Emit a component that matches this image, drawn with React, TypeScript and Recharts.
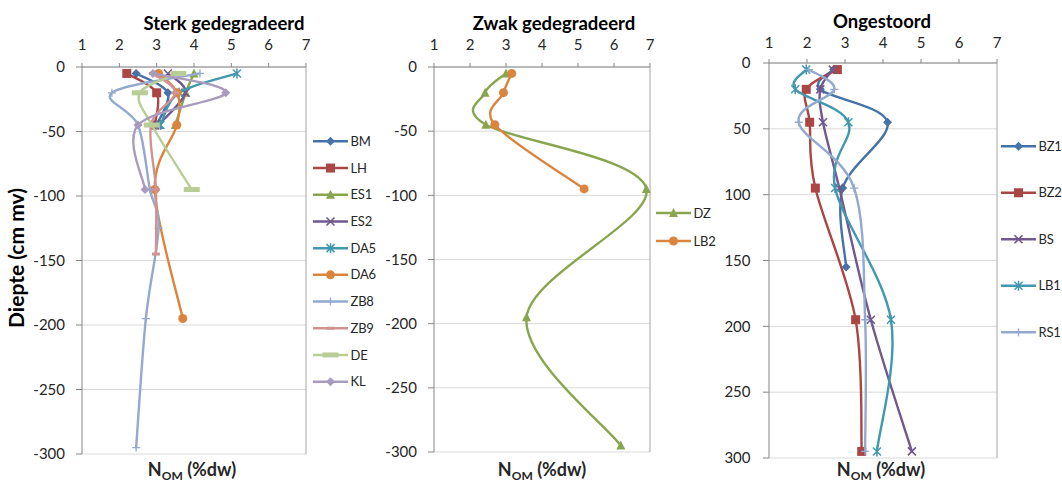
import { ScatterChart, Scatter, XAxis, YAxis, CartesianGrid, ReferenceLine, Legend } from 'recharts';

const FONT = 'Lato, "Open Sans", sans-serif';
const INK = '#262626';

const nomTicks = [1, 2, 3, 4, 5, 6, 7];
const negDepthTicks = [0, -50, -100, -150, -200, -250, -300];
const posDepthTicks = [0, 50, 100, 150, 200, 250, 300];

// Sterk gedegradeerd
const bmDepth = [-5, -20, -45];
const bmVal = [2.45, 3.3, 3.0];
const lhDepth = [-5, -20, -45];
const lhVal = [2.2, 3.0, 2.95];
const es1Depth = [-5, -20, -45];
const es1Val = [4.0, 3.78, 3.5];
const es2Depth = [-5, -20, -45];
const es2Val = [3.3, 3.77, 3.05];
const da5Depth = [-5, -20, -45];
const da5Val = [5.15, 3.6, 3.1];
const da6Depth = [-5, -20, -45, -95, -195];
const da6Val = [3.05, 3.55, 3.54, 2.95, 3.7];
const zb8Depth = [-5, -20, -45, -95, -125, -195, -295];
const zb8Val = [4.16, 1.8, 2.5, 2.82, 3.05, 2.71, 2.45];
const zb9Depth = [-5, -20, -45, -95, -145];
const zb9Val = [2.9, 3.5, 2.85, 2.98, 2.98];
const deDepth = [-5, -20, -45, -95];
const deVal = [3.58, 2.55, 2.87, 3.94];
const klDepth = [-5, -20, -45, -95];
const klVal = [2.9, 4.85, 2.5, 2.69];

// Zwak gedegradeerd
const dzDepth = [-5, -20, -45, -95, -195, -295];
const dzVal = [3.0, 2.42, 2.44, 6.9, 3.57, 6.19];
const lb2Depth = [-5, -20, -45, -95];
const lb2Val = [3.16, 2.93, 2.69, 5.17];

// Ongestoord
const bz1Depth = [5, 20, 45, 95, 155];
const bz1Val = [2.7, 2.35, 4.12, 2.94, 3.03];
const bz2Depth = [5, 20, 45, 95, 195, 295];
const bz2Val = [2.8, 1.98, 2.07, 2.22, 3.28, 3.44];
const bsDepth = [5, 20, 45, 95, 195, 295];
const bsVal = [2.68, 2.35, 2.42, 2.85, 3.68, 4.76];
const lb1Depth = [5, 20, 45, 95, 195, 295];
const lb1Val = [1.98, 1.69, 3.09, 2.74, 4.21, 3.84];
const rs1Depth = [5, 20, 45, 95, 195, 295];
const rs1Val = [2.05, 2.72, 1.78, 3.24, 3.53, 3.53];

const toPts = (d: number[], v: number[]) => d.map((dd, i) => ({ d: dd, v: v[i] }));

type Kind = 'diamond' | 'square' | 'triangle' | 'x' | 'asterisk' | 'circle' | 'plus' | 'dash' | 'bigdash';
type Series = { name: string; color: string; kind: Kind; data: { d: number; v: number }[] };

const sterk: Series[] = [
  { name: 'BM', color: '#4572A7', kind: 'diamond', data: toPts(bmDepth, bmVal) },
  { name: 'LH', color: '#AA4643', kind: 'square', data: toPts(lhDepth, lhVal) },
  { name: 'ES1', color: '#89A54E', kind: 'triangle', data: toPts(es1Depth, es1Val) },
  { name: 'ES2', color: '#71588F', kind: 'x', data: toPts(es2Depth, es2Val) },
  { name: 'DA5', color: '#4198AF', kind: 'asterisk', data: toPts(da5Depth, da5Val) },
  { name: 'DA6', color: '#DB843D', kind: 'circle', data: toPts(da6Depth, da6Val) },
  { name: 'ZB8', color: '#93A9CF', kind: 'plus', data: toPts(zb8Depth, zb8Val) },
  { name: 'ZB9', color: '#D19392', kind: 'dash', data: toPts(zb9Depth, zb9Val) },
  { name: 'DE', color: '#B9CD96', kind: 'bigdash', data: toPts(deDepth, deVal) },
  { name: 'KL', color: '#A99BBD', kind: 'diamond', data: toPts(klDepth, klVal) },
];

const zwak: Series[] = [
  { name: 'DZ', color: '#89A54E', kind: 'triangle', data: toPts(dzDepth, dzVal) },
  { name: 'LB2', color: '#DB843D', kind: 'circle', data: toPts(lb2Depth, lb2Val) },
];

const ongestoord: Series[] = [
  { name: 'BZ1', color: '#4572A7', kind: 'diamond', data: toPts(bz1Depth, bz1Val) },
  { name: 'BZ2', color: '#AA4643', kind: 'square', data: toPts(bz2Depth, bz2Val) },
  { name: 'BS', color: '#71588F', kind: 'x', data: toPts(bsDepth, bsVal) },
  { name: 'LB1', color: '#4198AF', kind: 'asterisk', data: toPts(lb1Depth, lb1Val) },
  { name: 'RS1', color: '#93A9CF', kind: 'plus', data: toPts(rs1Depth, rs1Val) },
];

// smoothing like Excel's "smoothed line" (cardinal spline, tension 0)
function excelSmooth(context: any) {
  let pts: number[][] = [];
  return {
    areaStart() {},
    areaEnd() {},
    lineStart() {
      pts = [];
    },
    point(x: number, y: number) {
      pts.push([+x, +y]);
    },
    lineEnd() {
      const n = pts.length;
      if (!n) return;
      context.moveTo(pts[0][0], pts[0][1]);
      for (let i = 0; i < n - 1; i++) {
        const p0 = pts[Math.max(0, i - 1)];
        const p1 = pts[i];
        const p2 = pts[i + 1];
        const p3 = pts[Math.min(n - 1, i + 2)];
        context.bezierCurveTo(
          p1[0] + (p2[0] - p0[0]) / 6,
          p1[1] + (p2[1] - p0[1]) / 6,
          p2[0] - (p3[0] - p1[0]) / 6,
          p2[1] - (p3[1] - p1[1]) / 6,
          p2[0],
          p2[1],
        );
      }
    },
  };
}

function Marker({ kind, cx, cy, color }: { kind: Kind; cx: number; cy: number; color: string }) {
  if (cx == null || cy == null) return null;
  switch (kind) {
    case 'diamond':
      return <path d={`M${cx},${cy - 4.5}L${cx + 4.5},${cy}L${cx},${cy + 4.5}L${cx - 4.5},${cy}Z`} fill={color} />;
    case 'square':
      return <rect x={cx - 4.5} y={cy - 4.5} width={9} height={9} fill={color} />;
    case 'triangle':
      return <path d={`M${cx},${cy - 5}L${cx + 4.5},${cy + 4}L${cx - 4.5},${cy + 4}Z`} fill={color} />;
    case 'circle':
      return <circle cx={cx} cy={cy} r={4.5} fill={color} />;
    case 'x':
      return (
        <path d={`M${cx - 4},${cy - 4}L${cx + 4},${cy + 4}M${cx - 4},${cy + 4}L${cx + 4},${cy - 4}`} stroke={color} strokeWidth={1.6} />
      );
    case 'asterisk':
      return (
        <path
          d={`M${cx - 4},${cy - 4}L${cx + 4},${cy + 4}M${cx - 4},${cy + 4}L${cx + 4},${cy - 4}M${cx},${cy - 5}L${cx},${cy + 5}`}
          stroke={color}
          strokeWidth={1.5}
        />
      );
    case 'plus':
      return <path d={`M${cx - 4},${cy}L${cx + 4},${cy}M${cx},${cy - 4}L${cx},${cy + 4}`} stroke={color} strokeWidth={1.3} />;
    case 'dash':
      return <rect x={cx - 4} y={cy - 1.5} width={8} height={3} fill={color} />;
    case 'bigdash':
      return <rect x={cx - 8} y={cy - 2.5} width={16} height={5} fill={color} />;
  }
  return null;
}

function LegendBox({ items, gap }: { items: Series[]; gap: number }) {
  return (
    <svg width={62} height={gap * items.length} style={{ display: 'block', overflow: 'visible' }}>
      {items.map((s, i) => {
        const y = gap * i + gap / 2;
        return (
          <g key={s.name}>
            <line x1={0} x2={35} y1={y} y2={y} stroke={s.color} strokeWidth={2.5} />
            <Marker kind={s.kind} cx={17.5} cy={y} color={s.color} />
            <text x={37.5} y={y} dy="0.35em" fontSize={13} letterSpacing={-0.2} fontFamily={FONT} fill={INK}>
              {s.name}
            </text>
          </g>
        );
      })}
    </svg>
  );
}

type PanelProps = {
  left: number;
  width: number;
  margin: { top: number; right: number; bottom: number; left: number };
  yWidth: number;
  yGap: number;
  xGap: number;
  yTicks: number[];
  reversed?: boolean;
  series: Series[];
  legendLeft: number;
  legendTop: number;
  legendGap: number;
};

function Panel(p: PanelProps) {
  const lo = Math.min(...p.yTicks);
  const hi = Math.max(...p.yTicks);
  return (
    <div style={{ position: 'absolute', left: p.left, top: 0 }}>
      <ScatterChart width={p.width} height={482} margin={p.margin}>
        <CartesianGrid vertical={false} stroke="#D9D9D9" />
        <XAxis
          type="number"
          dataKey="v"
          orientation="top"
          domain={[1, 7]}
          ticks={nomTicks}
          height={30}
          axisLine={{ stroke: '#868686' }}
          tickLine={{ stroke: '#868686' }}
          tickSize={4}
          tickMargin={p.xGap - 4}
          tick={{ fontSize: 15, fill: INK, fontFamily: FONT }}
        />
        <YAxis
          type="number"
          dataKey="d"
          domain={[lo, hi]}
          ticks={p.yTicks}
          reversed={p.reversed}
          width={p.yWidth}
          axisLine={{ stroke: '#868686' }}
          tickLine={{ stroke: '#868686' }}
          tickSize={6}
          tickMargin={p.yGap - 6}
          tick={{ fontSize: 15, fill: INK, fontFamily: FONT }}
        />
        <ReferenceLine x={7} stroke="#A6A6A6" />
        {p.series.map((s) => (
          <Scatter
            key={s.name}
            name={s.name}
            data={s.data}
            fill={s.color}
            line={{ stroke: s.color, strokeWidth: 2.4 }}
            lineJointType={excelSmooth as any}
            shape={(props: any) => <Marker kind={s.kind} cx={props.cx} cy={props.cy} color={s.color} />}
            isAnimationActive={false}
          />
        ))}
        <Legend
          layout="vertical"
          align="center"
          verticalAlign="middle"
          wrapperStyle={{ left: p.legendLeft, top: p.legendTop, width: 62 }}
          content={() => <LegendBox items={p.series} gap={p.legendGap} />}
        />
      </ScatterChart>
    </div>
  );
}

function NomTitle({ x }: { x: number }) {
  return (
    <text x={x} y={476} textAnchor="middle" fontSize={18} fontWeight={700} fontFamily={FONT} fill={INK}>
      N
      <tspan fontSize={12} dy={4}>
        OM
      </tspan>
      <tspan dy={-4}> (%dw)</tspan>
    </text>
  );
}

export default function App() {
  return (
    <div style={{ position: 'absolute', left: 0, top: 0, width: 1062, height: 482, background: '#fff', overflow: 'hidden' }}>
      <Panel
        left={0}
        width={360}
        margin={{ top: 37, right: 54, bottom: 28, left: 22 }}
        yWidth={60}
        yGap={17}
        xGap={17}
        yTicks={negDepthTicks}
        series={sterk}
        legendLeft={313}
        legendTop={127.6}
        legendGap={26.7}
      />
      <Panel
        left={360}
        width={355}
        margin={{ top: 37, right: 65, bottom: 30, left: 14 }}
        yWidth={60}
        yGap={17}
        xGap={17}
        yTicks={negDepthTicks}
        series={zwak}
        legendLeft={296}
        legendTop={199}
        legendGap={28}
      />
      <Panel
        left={715}
        width={347}
        margin={{ top: 33, right: 65, bottom: 24, left: 9 }}
        yWidth={45}
        yGap={18.5}
        xGap={15.5}
        yTicks={posDepthTicks}
        reversed
        series={ongestoord}
        legendLeft={286}
        legendTop={122.75}
        legendGap={46.5}
      />
      <svg width={1062} height={482} style={{ position: 'absolute', left: 0, top: 0, pointerEvents: 'none' }}>
        <g fontFamily={FONT} fontWeight={700} fill="#000" fontSize={18.5} textAnchor="middle">
          <text x={224} y={30}>Sterk gedegradeerd</text>
          <text x={554} y={30}>Zwak gedegradeerd</text>
          <text x={882} y={28}>Ongestoord</text>
        </g>
        <text
          transform="translate(24,258) rotate(-90)"
          textAnchor="middle"
          fontFamily={FONT}
          fontWeight={700}
          fontSize={21}
          fill="#000"
        >
          Diepte (cm mv)
        </text>
        <NomTitle x={192} />
        <NomTitle x={542} />
        <NomTitle x={881} />
      </svg>
    </div>
  );
}
